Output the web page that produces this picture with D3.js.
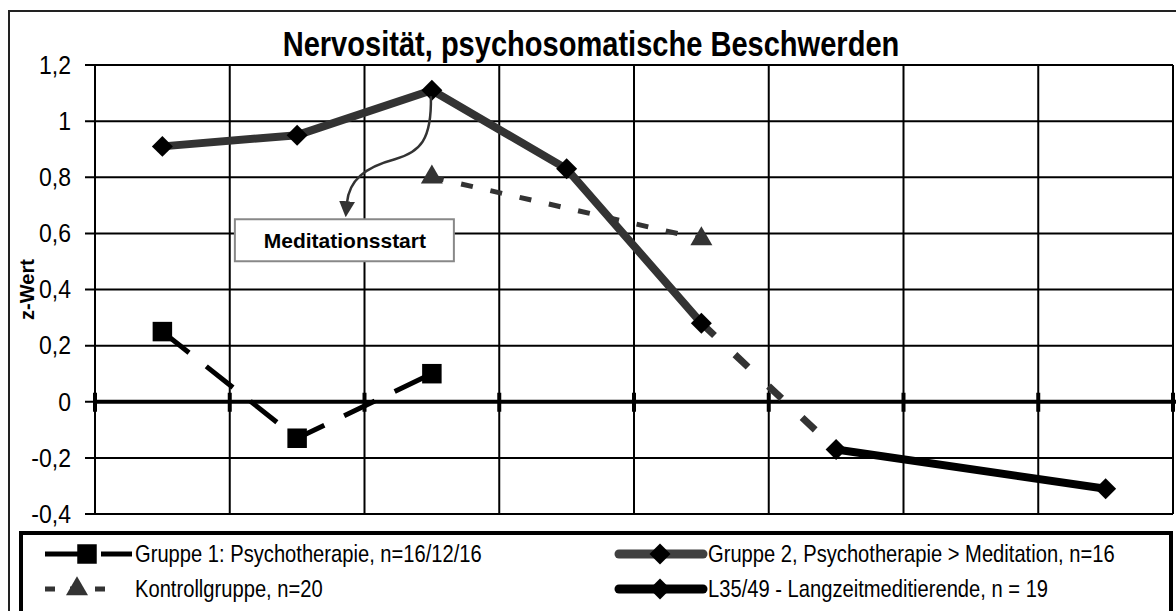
<!DOCTYPE html>
<html>
<head>
<meta charset="utf-8">
<script src="https://cdnjs.cloudflare.com/ajax/libs/d3/7.8.5/d3.min.js"></script>
<style>
  body { margin: 0; background: #fff; }
  svg { display: block; }
</style>
</head>
<body>
<div id="chart"></div>
<script>
// data
var categories = ["1", "2", "3", "4", "5", "6", "7", "8"];
var yTicks = [-0.4, -0.2, 0, 0.2, 0.4, 0.6, 0.8, 1, 1.2];
var yTickLabels = ["-0,4", "-0,2", "0", "0,2", "0,4", "0,6", "0,8", "1", "1,2"];

var gruppe1Values = [0.25, -0.13, 0.10, null, null, null, null, null];
var gruppe2Values = [0.91, 0.95, 1.11, 0.83, 0.28, null, null, null];
var kontrollValues = [null, null, 0.80, null, 0.58, null, null, null];
var l35Values = [null, null, null, null, null, -0.17, null, -0.31];
var bridgeValues = [null, null, null, null, 0.28, -0.17, null, null];

var legendNames = [
  "Gruppe 1: Psychotherapie, n=16/12/16",
  "Gruppe 2, Psychotherapie > Meditation, n=16",
  "Kontrollgruppe, n=20",
  "L35/49 - Langzeitmeditierende, n = 19"
];

var titleText = "Nervosität, psychosomatische Beschwerden";
var yAxisTitle = "z-Wert";
var noteText = "Meditationsstart";

// setup
var svgWidth = 1176;
var svgHeight = 611;
var plot = { left: 95, right: 1173, top: 65, bottom: 514 };
var sans = "'Liberation Sans', Arial, sans-serif";

var svg = d3.select("#chart")
  .append("svg")
  .attr("width", svgWidth)
  .attr("height", svgHeight);

// arrow head for the annotation
svg.append("defs").append("marker")
  .attr("id", "arrow")
  .attr("markerUnits", "userSpaceOnUse")
  .attr("viewBox", "0 0 16 16")
  .attr("refX", 2)
  .attr("refY", 8)
  .attr("markerWidth", 16)
  .attr("markerHeight", 16)
  .attr("orient", "auto")
  .append("path")
  .attr("d", "M0,0 L16,8 L0,16 Z")
  .attr("fill", "#333");

// outer frame
svg.append("rect")
  .attr("x", 9).attr("y", 11)
  .attr("width", 1190).attr("height", 640)
  .attr("fill", "none")
  .attr("stroke", "#222")
  .attr("stroke-width", 2);

// scales
var x = d3.scaleBand()
  .domain(categories)
  .range([plot.left, plot.right])
  .padding(0);

var y = d3.scaleLinear()
  .domain([-0.4, 1.2])
  .range([plot.bottom, plot.top]);

function cx(c) { return x(c) + x.bandwidth() / 2; }

// gridlines
var grid = svg.append("g");
grid.selectAll("line.h")
  .data(yTicks)
  .enter()
  .append("line")
  .attr("x1", plot.left - 10)
  .attr("x2", plot.right)
  .attr("y1", d => y(d))
  .attr("y2", d => y(d))
  .attr("stroke", "#000")
  .attr("stroke-width", 2);

var vLines = categories.map(c => x(c)).concat([plot.right]);
grid.selectAll("line.v")
  .data(vLines)
  .enter()
  .append("line")
  .attr("x1", d => d)
  .attr("x2", d => d)
  .attr("y1", plot.top)
  .attr("y2", plot.bottom)
  .attr("stroke", "#000")
  .attr("stroke-width", 2);

// y tick labels (condensed look of the original)
svg.append("g").selectAll("text")
  .data(yTicks)
  .enter()
  .append("text")
  .attr("transform", d => "translate(71," + y(d) + ") scale(0.92,1)")
  .attr("dy", "0.35em")
  .attr("text-anchor", "end")
  .style("font-family", sans)
  .style("font-size", "25px")
  .text((d, i) => yTickLabels[i]);

// zero axis with cross ticks
svg.append("line")
  .attr("x1", plot.left)
  .attr("x2", svgWidth)
  .attr("y1", y(0))
  .attr("y2", y(0))
  .attr("stroke", "#000")
  .attr("stroke-width", 4);

svg.append("g").selectAll("line")
  .data(vLines)
  .enter()
  .append("line")
  .attr("x1", d => d)
  .attr("x2", d => d)
  .attr("y1", y(0) - 9)
  .attr("y2", y(0) + 10)
  .attr("stroke", "#000")
  .attr("stroke-width", 4);

// title and axis title
svg.append("text")
  .attr("transform", "translate(591,56) scale(0.83,1)")
  .attr("text-anchor", "middle")
  .style("font-family", sans)
  .style("font-weight", "bold")
  .style("font-size", "35px")
  .text(titleText);

svg.append("text")
  .attr("transform", "translate(34," + y(0.4) + ") rotate(-90)")
  .attr("text-anchor", "middle")
  .style("font-family", sans)
  .style("font-weight", "bold")
  .style("font-size", "20px")
  .text(yAxisTitle);

// series
function toPoints(values) {
  return values
    .map((v, i) => ({ cat: categories[i], value: v }))
    .filter(d => d.value !== null);
}

var line = d3.line()
  .x(d => cx(d.cat))
  .y(d => y(d.value));

var series = [
  { values: gruppe2Values, color: "#333", width: 8, dash: null, marker: "diamond", markerColor: "#000" },
  { values: bridgeValues, color: "#333", width: 7, dash: "18,28", marker: null },
  { values: kontrollValues, color: "#333", width: 5, dash: "12,18", marker: "triangle", markerColor: "#333" },
  { values: gruppe1Values, color: "#000", width: 5, dash: "34,22", marker: "square", markerColor: "#000" },
  { values: l35Values, color: "#000", width: 8, dash: null, marker: "diamond", markerColor: "#000" }
];

var symbolFor = {
  diamond: d3.symbol().type(d3.symbolDiamond2).size(280),
  square: d3.symbol().type(d3.symbolSquare).size(380),
  triangle: d3.symbol().type(d3.symbolTriangle).size(210)
};

series.forEach(function(s) {
  var pts = toPoints(s.values);
  svg.append("path")
    .datum(pts)
    .attr("d", line)
    .attr("fill", "none")
    .attr("stroke", s.color)
    .attr("stroke-width", s.width)
    .attr("stroke-dasharray", s.dash)
    .attr("stroke-linejoin", "round");
});

series.forEach(function(s) {
  if (!s.marker) return;
  svg.append("g").selectAll("path")
    .data(toPoints(s.values))
    .enter()
    .append("path")
    .attr("d", symbolFor[s.marker])
    .attr("transform", d => "translate(" + cx(d.cat) + "," + y(d.value) + ")")
    .attr("fill", s.markerColor);
});

// annotation: curved arrow from the peak of Gruppe 2 to the note box
var px = cx(categories[2]);
var py = y(gruppe2Values[2]);

svg.append("path")
  .attr("d", "M" + (px - 1) + "," + (py + 6) +
    " C" + px + "," + (py + 50) + " " + (px - 12) + "," + (py + 62) + " " + (px - 37) + "," + (py + 69) +
    " C" + (px - 67) + "," + (py + 77) + " " + (px - 83) + "," + (py + 90) + " " + (px - 85) + "," + (py + 113))
  .attr("fill", "none")
  .attr("stroke", "#333")
  .attr("stroke-width", 2.5)
  .attr("marker-end", "url(#arrow)");

svg.append("rect")
  .attr("x", px - 197)
  .attr("y", py + 129)
  .attr("width", 219)
  .attr("height", 42)
  .attr("fill", "#fff")
  .attr("stroke", "#888")
  .attr("stroke-width", 2);

svg.append("text")
  .attr("x", px - 87)
  .attr("y", py + 150)
  .attr("dy", "0.35em")
  .attr("text-anchor", "middle")
  .style("font-family", sans)
  .style("font-weight", "bold")
  .style("font-size", "21px")
  .text(noteText);

// legend
svg.append("rect")
  .attr("x", 21)
  .attr("y", 533)
  .attr("width", 1150)
  .attr("height", 120)
  .attr("fill", "#fff")
  .attr("stroke", "#000")
  .attr("stroke-width", 4);

var row1 = 554;
var row2 = 589;
var legend = svg.append("g");

// Gruppe 1
legend.append("line")
  .attr("x1", 45).attr("x2", 132)
  .attr("y1", row1).attr("y2", row1)
  .attr("stroke", "#000").attr("stroke-width", 5)
  .attr("stroke-dasharray", "34,22");
legend.append("path")
  .attr("d", symbolFor.square)
  .attr("transform", "translate(87," + row1 + ")");

// Kontrollgruppe
legend.append("line")
  .attr("x1", 45).attr("x2", 106)
  .attr("y1", row2).attr("y2", row2)
  .attr("stroke", "#333").attr("stroke-width", 5)
  .attr("stroke-dasharray", "10,15");
legend.append("path")
  .attr("d", symbolFor.triangle)
  .attr("fill", "#333")
  .attr("transform", "translate(77," + row2 + ")");

// Gruppe 2
legend.append("line")
  .attr("x1", 619).attr("x2", 703)
  .attr("y1", row1).attr("y2", row1)
  .attr("stroke", "#404040").attr("stroke-width", 9)
  .attr("stroke-linecap", "round");
legend.append("path")
  .attr("d", symbolFor.diamond)
  .attr("transform", "translate(660," + row1 + ")");

// L35/49
legend.append("line")
  .attr("x1", 619).attr("x2", 703)
  .attr("y1", row2).attr("y2", row2)
  .attr("stroke", "#000").attr("stroke-width", 9)
  .attr("stroke-linecap", "round");
legend.append("path")
  .attr("d", symbolFor.diamond)
  .attr("transform", "translate(660," + row2 + ")");

var legendText = [
  { x: 135, y: row1, name: legendNames[0] },
  { x: 708, y: row1, name: legendNames[1] },
  { x: 135, y: row2, name: legendNames[2] },
  { x: 708, y: row2, name: legendNames[3] }
];
legend.selectAll("text")
  .data(legendText)
  .enter()
  .append("text")
  .attr("transform", d => "translate(" + d.x + "," + d.y + ") scale(0.84,1)")
  .attr("dy", "0.35em")
  .style("font-family", sans)
  .style("font-size", "24px")
  .text(d => d.name);
</script>
</body>
</html>
